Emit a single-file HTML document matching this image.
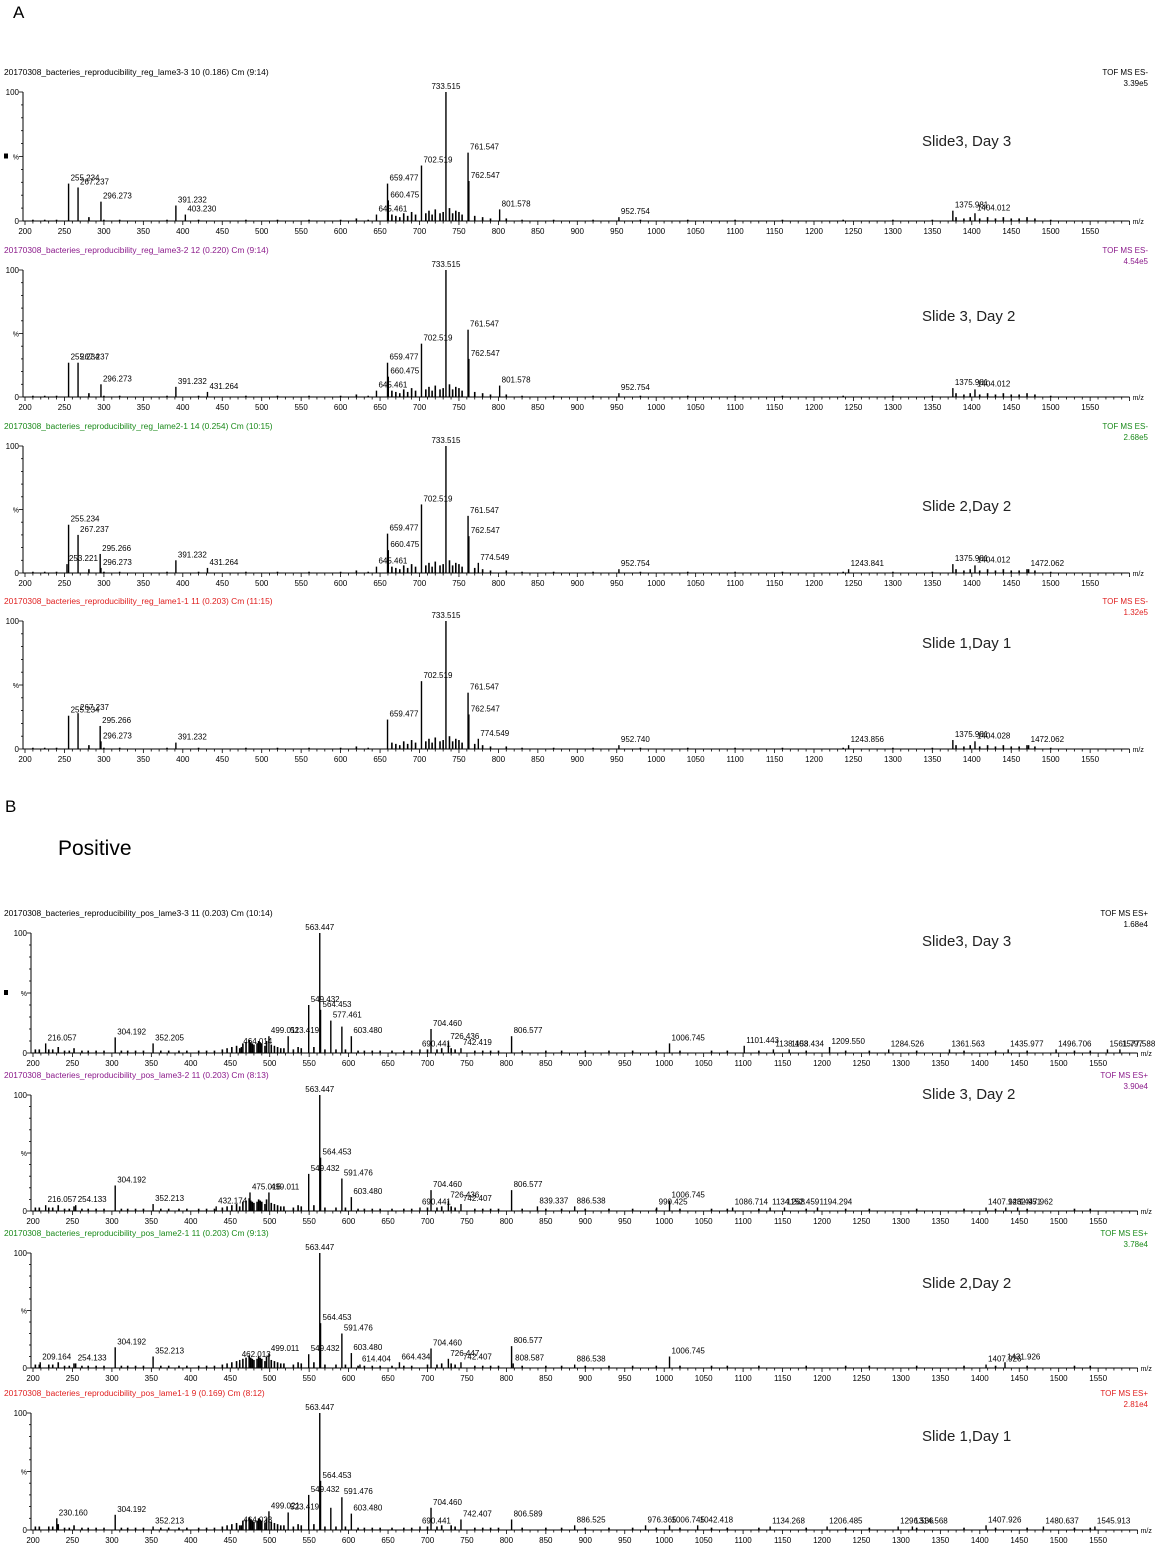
<!DOCTYPE html>
<html><head><meta charset="utf-8"><style>
body{margin:0;background:#fff;}
svg{display:block;font-family:"Liberation Sans",sans-serif;}
</style></head><body>
<svg id="c" width="1160" height="1550" viewBox="0 0 1160 1550">
<text x="13" y="18" font-size="17">A</text>
<text x="5" y="812" font-size="17">B</text>
<text x="58" y="855" font-size="21">Positive</text>
</svg>
<script>
// ---- Negative mode (A) ----
const a1Mz=[255.234,267.237,296.273,391.232,403.230,645.461,659.477,660.475,702.519,733.515,761.547,762.547,801.578,952.754,1375.981,1404.012];
const a1Int=[29,26,15,12,5,5,29,16,43,100,53,31,9,3,8,6];
const a2Mz=[255.234,267.237,296.273,391.232,431.264,645.461,659.477,660.475,702.519,733.515,761.547,762.547,801.578,952.754,1375.981,1404.012];
const a2Int=[27,27,10,8,4,5,27,16,42,100,53,30,9,3,7,6];
const a3Mz=[253.221,255.234,267.237,295.266,296.273,391.232,431.264,645.461,659.477,660.475,702.519,733.515,761.547,762.547,774.549,952.754,1243.841,1375.981,1404.012,1472.062];
const a3Int=[7,38,30,15,4,10,4,5,31,18,54,100,45,29,8,3,3,7,6,3];
const a4Mz=[255.234,267.237,295.266,296.273,391.232,659.477,702.519,733.515,761.547,762.547,774.549,952.740,1243.856,1375.981,1404.028,1472.062];
const a4Int=[26,28,18,6,5,23,53,100,44,27,8,3,3,7,6,3];
const aMinorMz=[210,225,240,281,300,320,380,420,480,520,560,600,620,635,665,670,675,680,685,690,695,708,712,716,720,726,730,738,742,746,750,754,770,780,790,810,830,870,920,980,1040,1100,1160,1237,1300,1350,1380,1390,1398,1410,1420,1430,1440,1450,1460,1470,1480,1500];
const aMinorInt=[1,1,1,3,1,1,1,1,1,1,1,1,2,1,5,4,3,6,4,7,5,6,8,5,9,6,7,10,6,8,7,5,4,3,2,2,1,1,1,1,1,1,1,1,1,1,3,2,3,2,3,2,3,2,2,3,2,1];
// ---- Positive mode (B) ----
const b1Mz=[216.057,304.192,352.205,464.014,499.011,523.419,549.432,563.447,564.453,577.461,591.476,603.480,690.441,704.460,726.436,742.419,806.577,1006.745,1101.443,1138.403,1158.434,1209.550,1284.526,1361.563,1435.977,1496.706,1561.797,1577.588];
const b1Int=[8,13,8,5,14,14,40,100,36,27,22,14,3,20,9,4,14,8,6,3,3,5,3,3,3,3,3,3];
const b1Lab=[1,1,1,1,1,1,1,1,1,1,0,1,1,1,1,1,1,1,1,1,1,1,1,1,1,1,1,1];
const b2Mz=[216.057,254.133,304.192,352.213,432.174,475.015,499.011,549.432,563.447,564.453,591.476,603.480,690.441,704.460,726.436,742.407,806.577,839.337,886.538,990.425,1006.745,1086.714,1134.268,1152.459,1194.294,1407.926,1432.951,1447.962];
const b2Int=[5,5,22,6,4,16,16,32,100,46,28,12,3,18,9,6,18,4,4,3,9,3,3,3,3,3,3,3];
const b3Mz=[209.164,254.133,304.192,352.213,462.013,499.011,549.432,563.447,564.453,591.476,603.480,614.404,664.434,704.460,726.447,742.407,806.577,808.587,886.538,1006.745,1407.926,1431.926];
const b3Int=[5,4,18,10,7,12,12,100,39,30,13,3,5,17,8,5,19,4,3,10,3,5];
const b4Mz=[230.160,304.192,352.213,464.023,499.021,523.419,549.432,563.447,564.453,577.461,591.476,603.480,690.441,704.460,742.407,806.589,886.525,976.365,1006.745,1042.418,1134.268,1206.485,1296.536,1314.568,1407.926,1480.637,1545.913];
const b4Int=[10,13,3,4,16,15,30,100,42,19,28,14,3,19,9,9,4,4,4,4,3,3,3,3,4,3,3];
const b4Lab=[1,1,1,1,1,1,1,1,1,0,1,1,1,1,1,1,1,1,1,1,1,1,1,1,1,1,1];
const bMinorMz=[203,208,220,225,232,240,246,252,262,270,280,290,312,320,330,340,362,372,385,395,410,420,430,440,446,452,458,462,466,470,474,476,478,480,484,486,488,490,494,496,502,506,510,514,518,530,536,540,556,570,584,596,612,620,630,640,655,670,680,700,712,718,730,735,760,770,780,790,820,850,870,900,930,960,990,1020,1060,1080,1120,1180,1230,1260,1320,1380,1420,1460,1520,1540];
const bMinorInt=[3,3,3,3,5,2,2,4,2,2,2,2,2,2,2,2,2,2,2,2,2,2,2,3,4,5,6,4,8,9,11,9,8,7,8,10,9,8,6,10,7,6,5,4,4,3,5,4,5,3,3,3,2,2,2,2,2,2,2,3,3,4,4,3,2,2,2,2,2,2,2,2,2,2,2,2,2,2,2,2,2,2,2,2,2,2,2,2];
const tickLabels=[200,250,300,350,400,450,500,550,600,650,700,750,800,850,900,950,1000,1050,1100,1150,1200,1250,1300,1350,1400,1450,1500,1550];

const panels=[
 {id:'neg-slide3-day3',mz:a1Mz,it:a1Int,mm:aMinorMz,mi:aMinorInt,x0:25,s:0.789,top:92,base:221,dec:3,title:'20170308_bacteries_reproducibility_reg_lame3-3 10 (0.186) Cm (9:14)',col:'#000',mode:'TOF MS ES-',sc:'3.39e5',slide:'Slide3, Day 3',sy:146,dot:true},
 {id:'neg-slide3-day2',mz:a2Mz,it:a2Int,mm:aMinorMz,mi:aMinorInt,x0:25,s:0.789,top:270,base:397,dec:3,title:'20170308_bacteries_reproducibility_reg_lame3-2 12 (0.220) Cm (9:14)',col:'#8b1a8b',mode:'TOF MS ES-',sc:'4.54e5',slide:'Slide 3, Day 2',sy:321},
 {id:'neg-slide2-day2',mz:a3Mz,it:a3Int,mm:aMinorMz,mi:aMinorInt,x0:25,s:0.789,top:446,base:573,dec:3,title:'20170308_bacteries_reproducibility_reg_lame2-1 14 (0.254) Cm (10:15)',col:'#1a8a1a',mode:'TOF MS ES-',sc:'2.68e5',slide:'Slide 2,Day 2',sy:511},
 {id:'neg-slide1-day1',mz:a4Mz,it:a4Int,mm:aMinorMz,mi:aMinorInt,x0:25,s:0.789,top:621,base:749,dec:3,title:'20170308_bacteries_reproducibility_reg_lame1-1 11 (0.203) Cm (11:15)',col:'#e02020',mode:'TOF MS ES-',sc:'1.32e5',slide:'Slide 1,Day 1',sy:648},
 {id:'pos-slide3-day3',mz:b1Mz,it:b1Int,lab:b1Lab,mm:bMinorMz,mi:bMinorInt,x0:33,s:0.789,top:933,base:1053,dec:3,title:'20170308_bacteries_reproducibility_pos_lame3-3 11 (0.203) Cm (10:14)',col:'#000',mode:'TOF MS ES+',sc:'1.68e4',slide:'Slide3, Day 3',sy:946,dot:true},
 {id:'pos-slide3-day2',mz:b2Mz,it:b2Int,mm:bMinorMz,mi:bMinorInt,x0:33,s:0.789,top:1095,base:1211,dec:3,title:'20170308_bacteries_reproducibility_pos_lame3-2 11 (0.203) Cm (8:13)',col:'#8b1a8b',mode:'TOF MS ES+',sc:'3.90e4',slide:'Slide 3, Day 2',sy:1099},
 {id:'pos-slide2-day2',mz:b3Mz,it:b3Int,mm:bMinorMz,mi:bMinorInt,x0:33,s:0.789,top:1253,base:1368,dec:3,title:'20170308_bacteries_reproducibility_pos_lame2-1 11 (0.203) Cm (9:13)',col:'#1a8a1a',mode:'TOF MS ES+',sc:'3.78e4',slide:'Slide 2,Day 2',sy:1288},
 {id:'pos-slide1-day1',mz:b4Mz,it:b4Int,lab:b4Lab,mm:bMinorMz,mi:bMinorInt,x0:33,s:0.789,top:1413,base:1530,dec:3,title:'20170308_bacteries_reproducibility_pos_lame1-1 9 (0.169) Cm (8:12)',col:'#e02020',mode:'TOF MS ES+',sc:'2.81e4',slide:'Slide 1,Day 1',sy:1441}
];
const NS='http://www.w3.org/2000/svg';
const svg=document.getElementById('c');
function mk(tag,attrs,parent,txt){const e=document.createElementNS(NS,tag);for(const k in attrs)e.setAttribute(k,attrs[k]);if(txt!==undefined)e.textContent=txt;parent.appendChild(e);return e;}
panels.forEach(p=>{
 const g=mk('g',{},svg);
 
 
 const X=m=>p.x0+(m-200)*p.s;
 const Y=v=>p.base-v/100*(p.base-p.top);
 const t=mk('text',{x:4,y:p.top-17,'font-size':8,fill:p.col,textLength:p.title.length*3.95,lengthAdjust:'spacingAndGlyphs'},g,p.title);
 
 
 const m1=mk('text',{x:1148,y:p.top-17,'font-size':8,fill:p.col,'text-anchor':'end'},g,p.mode);
 
 
 const m2=mk('text',{x:1148,y:p.top-6,'font-size':8,fill:p.col,'text-anchor':'end'},g,p.sc);
 
 
 const sl=mk('text',{x:922,y:p.sy,'font-size':15,fill:'#222'},g,p.slide);
 
 
 // y axis
 const ax=p.x0-2;
 mk('line',{x1:ax,y1:p.top,x2:ax,y2:p.base,stroke:'#000','stroke-width':1},g);
 for(let i=0;i<=10;i++){const yy=Y(i*10);mk('line',{x1:ax-(i%5?2:4),y1:yy,x2:ax,y2:yy,stroke:'#000','stroke-width':0.8},g);}
 mk('text',{x:ax-4,y:p.top+3,'font-size':8,'text-anchor':'end'},g,'100');
 mk('text',{x:ax-4,y:p.base+3,'font-size':8,'text-anchor':'end'},g,'0');
 mk('text',{x:ax-4,y:(p.top+p.base)/2+3,'font-size':7,'text-anchor':'end'},g,'%');
 if(p.dot)mk('rect',{x:4,y:(p.top+p.base)/2-3,width:4,height:5,fill:'#000'},g);
 // x axis
 const xa=mk('line',{x1:ax,y1:p.base,x2:X(1600),y2:p.base,stroke:'#000','stroke-width':1},g);
 
 
 for(let m=200;m<=1600;m+=10){mk('line',{x1:X(m),y1:p.base,x2:X(m),y2:p.base+(m%50?2.5:4),stroke:'#000','stroke-width':0.8},g);}
 tickLabels.forEach(v=>{mk('text',{x:X(v),y:p.base+13,'font-size':8,'text-anchor':'middle'},g,String(v));});
 mk('text',{x:X(1600)+3,y:p.base+3,'font-size':7},g,'m/z');
 // minor peaks
 p.mm.forEach((m,i)=>{const b=mk('line',{x1:X(m),y1:p.base,x2:X(m),y2:Y(p.mi[i]),stroke:'#000','stroke-width':1.6},g);
  
  });
 // labeled peaks
 p.mz.forEach((m,i)=>{
  const b=mk('line',{x1:X(m),y1:p.base,x2:X(m),y2:Y(p.it[i]),stroke:'#000','stroke-width':1.4},g);
  
  
  if(!p.lab||p.lab[i]){
   const l=mk('text',{x:X(m)+(p.it[i]<90?2:0),y:Y(p.it[i])-3,'font-size':8,'text-anchor':p.it[i]<90?'start':'middle'},g,m.toFixed(p.dec));
   
   
  }
 });
});
</script>
</body></html>
